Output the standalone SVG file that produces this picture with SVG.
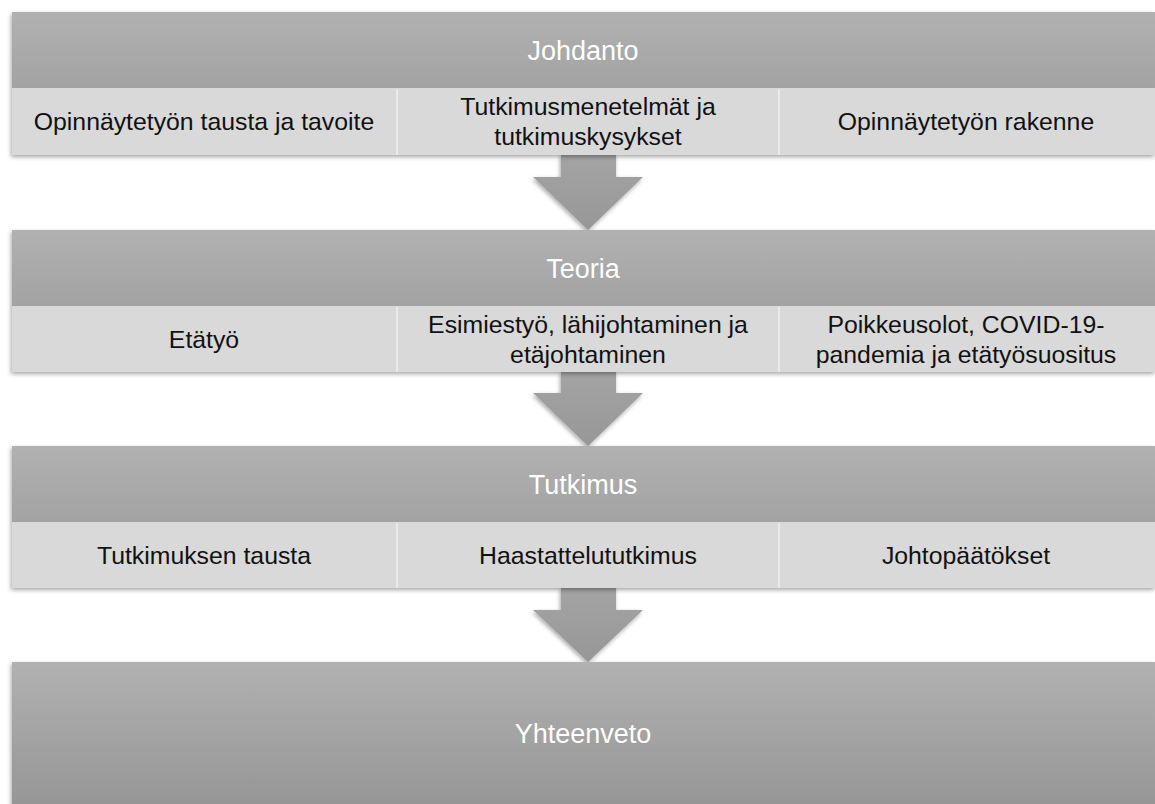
<svg xmlns="http://www.w3.org/2000/svg" width="1155" height="804" viewBox="0 0 1155 804">
<style>
.hdr{fill:#ffffff;font-family:"Liberation Sans",Arial,sans-serif;font-size:27px;text-anchor:middle}
.sub{fill:#111111;font-family:"Liberation Sans",Arial,sans-serif;font-size:24.8px;text-anchor:middle}
.cell{fill:#d9d9d9}
.sep{stroke:#e9e9e9;stroke-width:2}
.arrow{fill:url(#ag);filter:url(#sh)}
</style>
<defs>
<linearGradient id="hg" x1="0" y1="0" x2="0" y2="1">
<stop offset="0" stop-color="#b1b1b1"/>
<stop offset="1" stop-color="#969696"/>
</linearGradient>
<linearGradient id="ag" x1="0" y1="0" x2="0" y2="1">
<stop offset="0" stop-color="#a4a4a4"/>
<stop offset="1" stop-color="#979797"/>
</linearGradient>
<filter id="sh" x="-10%" y="-10%" width="120%" height="130%">
<feDropShadow dx="-1" dy="2" stdDeviation="2" flood-color="#000" flood-opacity="0.35"/>
</filter>
</defs>

<g id="connectors">
<path class="arrow" d="M561,154 H616 V177 H643 L588,230 L533,177 H561 Z"/>
<path class="arrow" d="M561,371 H616 V393 H643 L588,446 L533,393 H561 Z"/>
<path class="arrow" d="M561,587 H616 V610 H643 L588,662 L533,610 H561 Z"/>
</g>

<g id="johdanto">
<g filter="url(#sh)">
<rect x="12" y="12" width="1143" height="143" fill="url(#hg)"/>
<rect class="cell" x="12" y="88" width="1143" height="67"/>
</g>
<line class="sep" x1="397" y1="89" x2="397" y2="155"/>
<line class="sep" x1="779" y1="89" x2="779" y2="155"/>
<text class="hdr" x="583" y="60">Johdanto</text>
<text class="sub" x="204" y="130">Opinnäytetyön tausta ja tavoite</text>
<text class="sub" x="588" y="115">Tutkimusmenetelmät ja</text>
<text class="sub" x="588" y="145">tutkimuskysykset</text>
<text class="sub" x="966" y="130">Opinnäytetyön rakenne</text>
</g>

<g id="teoria">
<g filter="url(#sh)">
<rect x="12" y="230" width="1143" height="142" fill="url(#hg)"/>
<rect class="cell" x="12" y="306" width="1143" height="66"/>
</g>
<line class="sep" x1="397" y1="307" x2="397" y2="372"/>
<line class="sep" x1="779" y1="307" x2="779" y2="372"/>
<text class="hdr" x="583" y="278">Teoria</text>
<text class="sub" x="204" y="348">Etätyö</text>
<text class="sub" x="588" y="333">Esimiestyö, lähijohtaminen ja</text>
<text class="sub" x="588" y="363">etäjohtaminen</text>
<text class="sub" x="966" y="333">Poikkeusolot, COVID-19-</text>
<text class="sub" x="966" y="363">pandemia ja etätyösuositus</text>
</g>

<g id="tutkimus">
<g filter="url(#sh)">
<rect x="12" y="446" width="1143" height="142" fill="url(#hg)"/>
<rect class="cell" x="12" y="522" width="1143" height="66"/>
</g>
<line class="sep" x1="397" y1="523" x2="397" y2="588"/>
<line class="sep" x1="779" y1="523" x2="779" y2="588"/>
<text class="hdr" x="583" y="494">Tutkimus</text>
<text class="sub" x="204" y="564">Tutkimuksen tausta</text>
<text class="sub" x="588" y="564">Haastattelututkimus</text>
<text class="sub" x="966" y="564">Johtopäätökset</text>
</g>

<g id="yhteenveto">
<rect x="12" y="662" width="1143" height="143" fill="url(#hg)" filter="url(#sh)"/>
<text class="hdr" x="583" y="743">Yhteenveto</text>
</g>
</svg>
